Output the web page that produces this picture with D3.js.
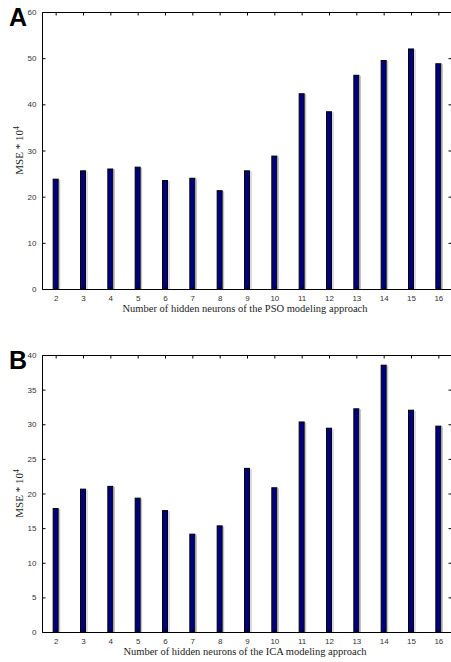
<!DOCTYPE html>
<html>
<head>
<meta charset="utf-8">
<script src="https://cdn.jsdelivr.net/npm/d3@7"></script>
<style>
  body { margin: 0; background: #fff; }
  svg { display: block; }
</style>
</head>
<body>
<div id="chart"></div>
<script>
// Hidden neurons (x categories) shared by both panels
const neurons = [2, 3, 4, 5, 6, 7, 8, 9, 10, 11, 12, 13, 14, 15, 16];

// MSE * 10^4
const msePSO = [23.9, 25.7, 26.1, 26.5, 23.6, 24.1, 21.4, 25.7, 28.9, 42.4, 38.5, 46.4, 49.6, 52.1, 48.9];
const mseICA = [17.9, 20.7, 21.1, 19.4, 17.6, 14.2, 15.4, 23.7, 20.9, 30.4, 29.5, 32.3, 38.6, 32.1, 29.8];

const ticksA = [0, 10, 20, 30, 40, 50, 60];
const ticksB = [0, 5, 10, 15, 20, 25, 30, 35, 40];

const panels = [
  {letter: "A", values: msePSO, yTicks: ticksA, ymax: 60, top: 12, bottom: 289,
   xlabel: "Number of hidden neurons of the PSO modeling approach"},
  {letter: "B", values: mseICA, yTicks: ticksB, ymax: 40, top: 355, bottom: 632,
   xlabel: "Number of hidden neurons of the ICA modeling approach"}
];

const width = 451, height = 662;
const left = 42, right = 452;
const tickLen = 3;

const svg = d3.select("#chart").append("svg")
  .attr("width", width)
  .attr("height", height);

const x = d3.scaleLinear()
  .domain([1.5, 16.5])
  .range([left, right]);
const barW = 6;

function drawPanel(p) {
  const y = d3.scaleLinear()
    .domain([0, p.ymax])
    .range([p.bottom, p.top]);

  const g = svg.append("g");

  // bars: shadow line then navy bar with black edge
  const bars = g.append("g");
  bars.selectAll("line.shadow")
    .data(p.values)
    .join("line")
      .attr("class", "shadow")
      .attr("x1", (d, i) => x(neurons[i]) + barW / 2 + 1)
      .attr("x2", (d, i) => x(neurons[i]) + barW / 2 + 1)
      .attr("y1", d => y(d) + 1)
      .attr("y2", y(0))
      .attr("stroke", "#b8b8b8")
      .attr("stroke-width", 1);
  bars.selectAll("rect")
    .data(p.values)
    .join("rect")
      .attr("x", (d, i) => x(neurons[i]) - barW / 2 + 0.5)
      .attr("y", d => y(d) + 0.5)
      .attr("width", barW - 1)
      .attr("height", d => y(0) - y(d))
      .attr("fill", "#000080")
      .attr("stroke", "#000")
      .attr("stroke-width", 1);

  // left axis, ticks pointing inward
  const yAxis = g.append("g")
    .attr("transform", `translate(${left + 0.5},0)`)
    .call(d3.axisLeft(y).tickValues(p.yTicks).tickSize(-tickLen).tickPadding(6))
    .call(g => g.select(".domain").remove());
  yAxis.selectAll(".tick line").attr("stroke", "#000");
  yAxis.selectAll(".tick text")
    .attr("font-family", "Liberation Sans, Arial, sans-serif")
    .attr("font-size", 8)
    .attr("fill", "#333");

  // right ticks
  g.append("g")
    .attr("transform", `translate(${right - 0.5},0)`)
    .call(d3.axisRight(y).tickValues(p.yTicks).tickSize(-tickLen).tickFormat(""))
    .call(g => g.select(".domain").remove())
    .selectAll(".tick line").attr("stroke", "#000");

  // bottom axis with category labels
  const xAxis = g.append("g")
    .attr("transform", `translate(0,${p.bottom + 0.5})`)
    .call(d3.axisBottom(x).tickValues(neurons).tickSize(-tickLen).tickPadding(6))
    .call(g => g.select(".domain").remove());
  xAxis.selectAll(".tick line").attr("stroke", "#000");
  xAxis.selectAll(".tick text")
    .attr("font-family", "Liberation Sans, Arial, sans-serif")
    .attr("font-size", 8)
    .attr("fill", "#333");

  // top ticks
  g.append("g")
    .attr("transform", `translate(0,${p.top + 0.5})`)
    .call(d3.axisTop(x).tickValues(neurons).tickSize(-tickLen).tickFormat(""))
    .call(g => g.select(".domain").remove())
    .selectAll(".tick line").attr("stroke", "#000");

  // frame (left, top, bottom; right side falls just outside the page)
  g.append("path")
    .attr("d", `M${right + 2},${p.top + 0.5}H${left + 0.5}V${p.bottom + 0.5}H${right + 2}`)
    .attr("fill", "none")
    .attr("stroke", "#000")
    .attr("stroke-width", 1);

  // x label
  g.append("text")
    .attr("x", (left + right) / 2 - 2)
    .attr("y", p.bottom + 23)
    .attr("text-anchor", "middle")
    .attr("font-family", "Liberation Serif, Times New Roman, serif")
    .attr("font-size", 10.5)
    .attr("fill", "#222")
    .text(p.xlabel);

  // y label
  const yl = g.append("text")
    .attr("transform", `translate(23,${(p.top + p.bottom) / 2}) rotate(-90)`)
    .attr("text-anchor", "middle")
    .attr("font-family", "Liberation Serif, Times New Roman, serif")
    .attr("font-size", 11)
    .attr("fill", "#222");
  yl.append("tspan").text("MSE * 10");
  yl.append("tspan").attr("font-size", 7.5).attr("dy", -4.5).text("4");

  // panel letter
  g.append("text")
    .attr("x", 9)
    .attr("y", p.top + 14)
    .attr("font-family", "Liberation Sans, Arial, sans-serif")
    .attr("font-weight", "bold")
    .attr("font-size", 25)
    .attr("fill", "#000")
    .text(p.letter);
}

panels.forEach(drawPanel);
</script>
</body>
</html>
